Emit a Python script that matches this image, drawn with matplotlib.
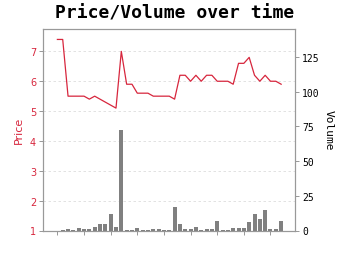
import matplotlib
matplotlib.use("Agg")
import matplotlib.pyplot as plt
import numpy as np

price = [7.4, 7.4, 5.5, 5.5, 5.5, 5.5, 5.4, 5.5, 5.4, 5.3, 5.2, 5.1, 7.0, 5.9, 5.9,
         5.6, 5.6, 5.6, 5.5, 5.5, 5.5, 5.5, 5.4, 6.2, 6.2, 6.0, 6.2, 6.0, 6.2, 6.2,
         6.0, 6.0, 6.0, 5.9, 6.6, 6.6, 6.8, 6.2, 6.0, 6.2, 6.0, 6.0, 5.9]
volume = [0, 0.3, 0.8, 0.5, 1.5, 0.8, 0.8, 2.2, 4.4, 4.4, 12, 2.5, 72, 0.5, 0.5,
          1.8, 0.5, 0.5, 1.4, 1.4, 0.5, 0.5, 17, 4.8, 1.0, 1.0, 2.2, 0.5, 1.2, 1.2,
          6.5, 0.5, 0.5, 1.7, 1.7, 2.0, 6.0, 12, 8.0, 15, 1.0, 1.0, 6.5]
idx = np.arange(len(price))

red = "#d7263d"
fig = plt.figure(figsize=(3.5, 2.55), dpi=100)
ax = fig.add_axes([43/350, 1-231.5/255, (295-43)/350, (231.5-30)/255])
ax2 = ax.twinx()

ax.plot(idx, price, color=red, lw=0.9, zorder=3)
ax2.bar(idx, volume, width=0.75, color="#808080")

ax.set_xlim(-2.7, 44.6)
ax.set_ylim(1, 7.75)
ax2.set_ylim(0, 145)
ax.set_xticks(idx[::5])
ax.set_xticklabels([])
ax.set_yticks([1, 2, 3, 4, 5, 6, 7])
ax2.set_yticks([0, 25, 50, 75, 100, 125])

ax.grid(axis="y", color="#dddddd", ls=(0, (3, 3)), lw=0.6)
ax.tick_params(axis="y", colors="#888888", labelcolor=red, labelsize=7, length=3, width=0.6, pad=2)
ax.tick_params(axis="x", colors="#888888", length=3, width=0.6)
ax2.tick_params(axis="y", colors="#888888", labelcolor="black", labelsize=7, length=3, width=0.6, pad=2)
for lab in ax2.get_yticklabels():
    lab.set_family("DejaVu Sans Mono")

for a in (ax, ax2):
    for s in a.spines.values():
        s.set_color("#999999")
        s.set_linewidth(0.8)

ax.set_ylabel("Price", color=red, fontsize=8, labelpad=4)
ax2.set_ylabel("Volume", fontsize=8, family="DejaVu Sans Mono", rotation=270, labelpad=10)

fig.text(0.5, 1-19/255, "Price/Volume over time", ha="center", va="baseline",
         fontsize=13, fontweight="bold", family="DejaVu Sans Mono")

fig.savefig("out.png", dpi=100)
